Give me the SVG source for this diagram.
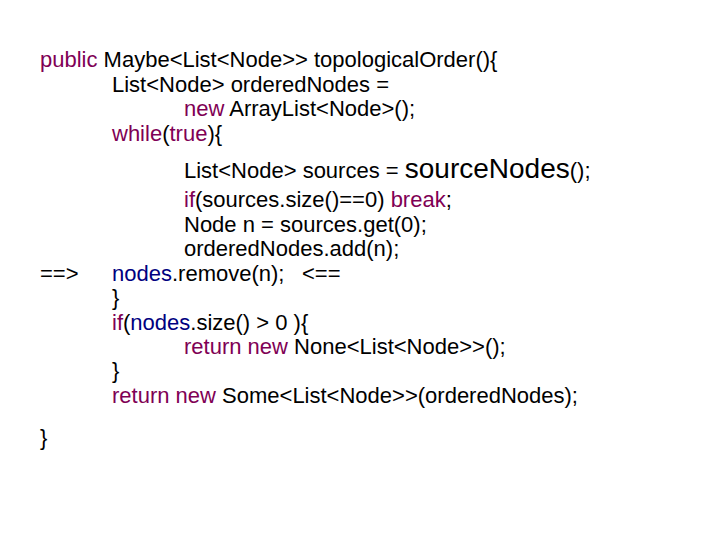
<svg xmlns="http://www.w3.org/2000/svg" width="720" height="540" viewBox="0 0 720 540">
<style>
text{font-family:"Liberation Sans",Arial,sans-serif;font-size:22px;fill:#000}
.k{fill:#7f0055}.f{fill:#000080}
</style>
<rect width="720" height="540" fill="#fff"/>
<g id="code">
<text x="40" y="67"><tspan class="k">public</tspan> Maybe&lt;List&lt;Node&gt;&gt; topologicalOrder(){</text>
<text x="112" y="92">List&lt;Node&gt; orderedNodes =</text>
<text x="184" y="116"><tspan class="k">new</tspan> ArrayList&lt;Node&gt;();</text>
<text x="112" y="141"><tspan class="k">while</tspan>(<tspan class="k">true</tspan>){</text>
<text x="184" y="178">List&lt;Node&gt; sources = <tspan style="font-size:28px">sourceNodes</tspan>();</text>
<text x="184" y="207"><tspan class="k">if</tspan>(sources.size()==0) <tspan class="k">break</tspan>;</text>
<text x="184" y="232">Node n = sources.get(0);</text>
<text x="184" y="256">orderedNodes.add(n);</text>
<text x="40" y="281">==&gt;</text>
<text x="112" y="281"><tspan class="f">nodes</tspan>.remove(n);</text>
<text x="302" y="281">&lt;==</text>
<text x="112" y="305">}</text>
<text x="112" y="330"><tspan class="k">if</tspan>(<tspan class="f">nodes</tspan>.size() &gt; 0 ){</text>
<text x="184" y="354"><tspan class="k">return new</tspan> None&lt;List&lt;Node&gt;&gt;();</text>
<text x="112" y="378">}</text>
<text x="112" y="403"><tspan class="k">return new</tspan> Some&lt;List&lt;Node&gt;&gt;(orderedNodes);</text>
<text x="40" y="445">}</text>
</g>
</svg>
